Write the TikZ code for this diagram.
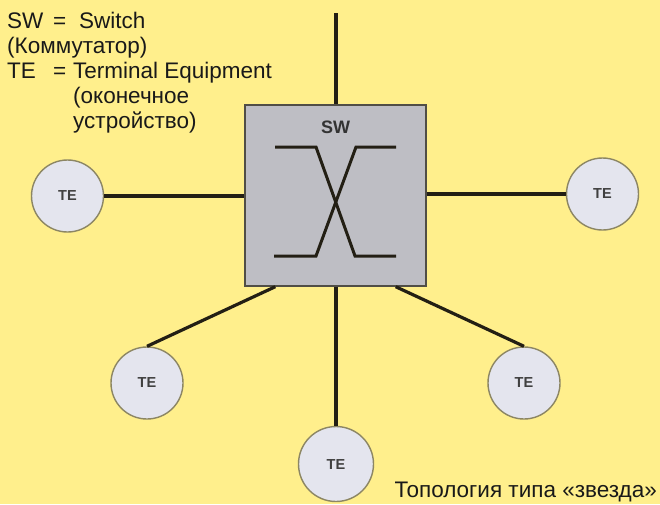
\documentclass[tikz,border=0pt]{standalone}
\usepackage{fontspec}
\setmainfont{Liberation Sans}
\definecolor{bgyellow}{RGB}{255,239,140}
\definecolor{boxgray}{RGB}{190,190,196}
\definecolor{boxedge}{RGB}{80,78,70}
\definecolor{tefill}{RGB}{228,229,238}
\definecolor{teedge}{RGB}{140,134,100}
\definecolor{linecol}{RGB}{35,31,20}
\definecolor{txt}{RGB}{25,25,25}
\begin{document}
\begin{tikzpicture}[x=1pt,y=-1pt,
  link/.style={draw=linecol,line width=3.2pt},
  switchbox/.style={draw=boxedge,fill=boxgray,line width=1.4pt,minimum size=181pt,inner sep=0pt},
  tebox/.style={circle,draw=teedge,fill=tefill,line width=1.4pt,minimum size=72pt,inner sep=0pt,
    font=\fontsize{14.5}{16}\selectfont\bfseries,text=black!75},
  legend/.style={anchor=base west,inner sep=0pt,font=\fontsize{22.5}{26}\selectfont,text=txt}]
\fill[bgyellow] (0,0) rectangle (660,504);
\useasboundingbox (0,0) rectangle (660,504);
% legend
\node[legend] (l1) at (7,28) {SW};
\node[legend] (l1e) at (53,28) {=};
\node[legend] (l1t) at (79,28) {Switch};
\node[legend] (l2) at (7,53) {(Коммутатор)};
\node[legend] (l3) at (7,78) {TE};
\node[legend] (l3e) at (53,78) {=};
\node[legend] (l3t) at (73,78) {Terminal Equipment};
\node[legend] (l4) at (73,103) {(оконечное};
\node[legend] (l5) at (73,128) {устройство)};
% switch
\node[switchbox] (sw) at (335.5,195.5) {};
\node[font=\fontsize{18}{20}\selectfont\bfseries,text=black!80,inner sep=0pt] (swl) at (335.5,127) {SW};
\draw[link,line width=3pt] (275,147) -- (316,147) -- (355,256) -- (396,256);
\draw[link,line width=3pt] (396,147) -- (356,147) -- (316,256) -- (274,256);
% terminals
\node[tebox] (te1) at (67.5,196) {TE};
\node[tebox] (te2) at (602.5,194) {TE};
\node[tebox] (te4) at (147,383) {TE};
\node[tebox] (te5) at (524,383) {TE};
\node[tebox,minimum size=75pt] (te3) at (336,464) {TE};
\coordinate (topend) at (336,13);
% connectors
\draw[link] (topend) -- (topend |- sw.north);
\draw[link] (te1.east) -- (te1.east -| sw.west);
\draw[link] (sw.east |- te2.west) -- (te2.west);
\draw[link] (sw.south -| te3.north) -- (te3.north);
\draw[link] ([xshift=31pt]sw.south west) -- (te4.north);
\draw[link] ([xshift=-31pt]sw.south east) -- (te5.north);
% caption
\node[anchor=base east,inner sep=0pt,font=\fontsize{22.5}{26}\selectfont,text=txt] (cap) at (657,497.5) {Топология типа «звезда»};
\end{tikzpicture}
\end{document}
